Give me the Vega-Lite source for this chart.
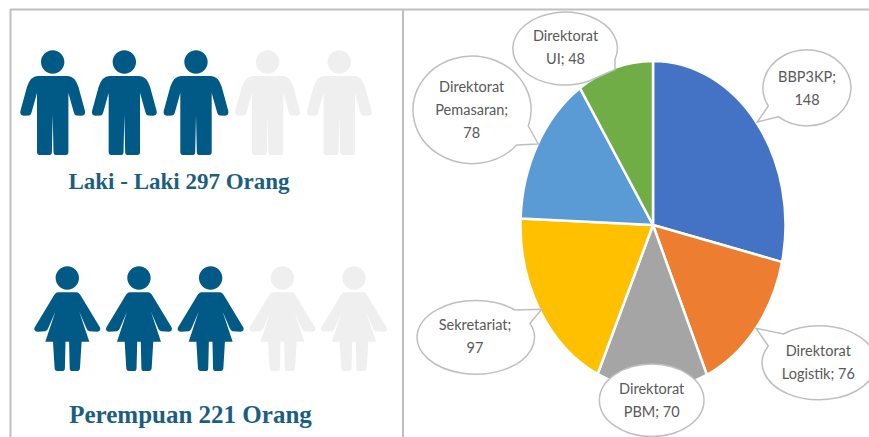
{
"$schema":"https://vega.github.io/schema/vega-lite/v6.json",
"width":869,"height":437,"padding":0,
"autosize":{"type":"fit","contains":"padding"},
"background":"white",
"datasets":{
"unit":[{"urutan":1,"name":"BBP3KP","value":148,"label":"BBP3KP;\n148"},{"urutan":2,"name":"Direktorat Logistik","value":76,"label":"Direktorat\nLogistik; 76"},{"urutan":3,"name":"Direktorat PBM","value":70,"label":"Direktorat\nPBM; 70"},{"urutan":4,"name":"Sekretariat","value":97,"label":"Sekretariat;\n97"},{"urutan":5,"name":"Direktorat Pemasaran","value":78,"label":"Direktorat\nPemasaran;\n78"},{"urutan":6,"name":"Direktorat UI","value":48,"label":"Direktorat\nUI; 48"}],
"laki":[{"kolom":1,"status":"terisi"},{"kolom":2,"status":"terisi"},{"kolom":3,"status":"terisi"},{"kolom":4,"status":"kosong"},{"kolom":5,"status":"kosong"}],
"perempuan":[{"kolom":1,"status":"terisi"},{"kolom":2,"status":"terisi"},{"kolom":3,"status":"terisi"},{"kolom":4,"status":"kosong"},{"kolom":5,"status":"kosong"}],
"judul":[{"baris":1,"teks":"Laki - Laki 297 Orang"},{"baris":2,"teks":"Perempuan 221 Orang"}]
},
"data":{"name":"unit"},
"config":{"view":{"stroke":null}},
"resolve":{"scale":{"x":"independent","y":"independent","fill":"independent","shape":"independent"}},
"layer":[
{"data":{"values":[{"garis":"atas"}]},"mark":{"type":"rule","color":"#BFBFBF","strokeWidth":2},
"encoding":{"x":{"datum":10,"type":"quantitative","axis":null,"scale":{"domain":[0,869],"range":[0,869]}},"x2":{"datum":869},"y":{"datum":9.5,"type":"quantitative","axis":null,"scale":{"domain":[0,437],"range":[0,437]}}}},
{"data":{"values":[{"garis":"kiri"}]},"mark":{"type":"rule","color":"#BFBFBF","strokeWidth":2},
"encoding":{"x":{"datum":10.5,"type":"quantitative","axis":null,"scale":{"domain":[0,869],"range":[0,869]}},"y":{"datum":9,"type":"quantitative","axis":null,"scale":{"domain":[0,437],"range":[0,437]}},"y2":{"datum":437}}},
{"data":{"values":[{"garis":"tengah"}]},"mark":{"type":"rule","color":"#BFBFBF","strokeWidth":2},
"encoding":{"x":{"datum":403,"type":"quantitative","axis":null,"scale":{"domain":[0,869],"range":[0,869]}},"y":{"datum":9,"type":"quantitative","axis":null,"scale":{"domain":[0,437],"range":[0,437]}},"y2":{"datum":437}}},
{"data":{"name":"laki"},
"mark":{"type":"point","filled":true,"opacity":1,"size":4,"strokeWidth":0,
"shape":"M-15,14 L15,14 Q22,14 25.7,24.7 L32.3,49 Q33,53.5 29,53.7 L24,53.5 Q22,53.5 21,50 L15.7,31 L15.7,90 Q15.7,93 13,93 L3,93 Q1,93 0.8,90 L0,53 L-0.8,90 Q-1,93 -3,93 L-13,93 Q-15.7,93 -15.7,90 L-15.7,31 L-21,50 Q-22,53.5 -24,53.5 L-29,53.7 Q-33,53.5 -32.3,49 L-25.7,24.7 Q-22,14 -15,14 Z M11.7,0 A11.7,11.7 0 1 1 -11.7,0 A11.7,11.7 0 1 1 11.7,0 Z"},
"encoding":{"x":{"field":"kolom","type":"quantitative","axis":null,"scale":{"domain":[1,5],"range":[52.7,339.3],"zero":false,"nice":false}},
"y":{"datum":62,"type":"quantitative","axis":null,"scale":{"domain":[0,437],"range":[0,437]}},
"fill":{"field":"status","type":"nominal","legend":null,"scale":{"domain":["terisi","kosong"],"range":["#005A85","#EFEFEF"]}}}},
{"data":{"name":"perempuan"},
"mark":{"type":"point","filled":true,"opacity":1,"size":4,"strokeWidth":0,
"shape":"M-9,14.3 L9,14.3 Q12,14.3 14.3,19 L32.7,49.5 Q34,53 30,53.7 L22,53.3 Q20,53 19,50 L12,33.7 L22,63.7 L14.3,63.7 L12.7,90 Q12.5,93 10,93 L4.3,93 Q2.5,93 2.4,90 L1.8,63.7 L-1.8,63.7 L-2.4,90 Q-2.5,93 -4.3,93 L-10,93 Q-12.5,93 -12.7,90 L-14.3,63.7 L-22,63.7 L-12,33.7 L-19,50 Q-20,53 -22,53.3 L-30,53.7 Q-34,53 -32.7,49.5 L-14.3,19 Q-12,14.3 -9,14.3 Z M11.7,0 A11.7,11.7 0 1 1 -11.7,0 A11.7,11.7 0 1 1 11.7,0 Z"},
"encoding":{"x":{"field":"kolom","type":"quantitative","axis":null,"scale":{"domain":[1,5],"range":[67.3,354],"zero":false,"nice":false}},
"y":{"datum":278,"type":"quantitative","axis":null,"scale":{"domain":[0,437],"range":[0,437]}},
"fill":{"field":"status","type":"nominal","legend":null,"scale":{"domain":["terisi","kosong"],"range":["#005A85","#EFEFEF"]}}}},
{"data":{"name":"judul"},
"mark":{"type":"text","font":"Liberation Serif","fontWeight":"bold","color":"#1B5E80","baseline":"middle","align":"center"},
"encoding":{"text":{"field":"teks"},
"size":{"field":"baris","type":"quantitative","legend":null,"scale":{"domain":[1,2],"range":[23,25],"zero":false,"nice":false}},
"x":{"field":"baris","type":"quantitative","axis":null,"scale":{"domain":[1,2],"range":[179,190.5],"zero":false,"nice":false}},
"y":{"field":"baris","type":"quantitative","axis":null,"scale":{"domain":[1,2],"range":[182,415],"zero":false,"nice":false}}}},
{"mark":{"type":"point","filled":true,"opacity":1,"size":4,"stroke":"white","strokeWidth":2.5,"strokeJoin":"round"},
"encoding":{"x":{"datum":653,"type":"quantitative","axis":null,"scale":{"domain":[0,869],"range":[0,869]}},
"y":{"datum":225,"type":"quantitative","axis":null,"scale":{"domain":[0,437],"range":[0,437]}},
"fill":{"field":"name","type":"nominal","legend":null,"scale":{"domain":["BBP3KP","Direktorat Logistik","Direktorat PBM","Sekretariat","Direktorat Pemasaran","Direktorat UI"],"range":["#4472C4","#ED7D31","#A5A5A5","#FFC000","#5B9BD5","#70AD47"]}},
"shape":{"field":"name","type":"nominal","legend":null,"scale":{"domain":["BBP3KP","Direktorat Logistik","Direktorat PBM","Sekretariat","Direktorat Pemasaran","Direktorat UI"],"range":["M0,0 L0,-164 A132.5,164 0 0 1 129.1,37.1 Z","M0,0 L129.1,37.1 A132.5,164 0 0 1 53.9,149.8 Z","M0,0 L53.9,149.8 A132.5,164 0 0 1 -55.4,149 Z","M0,0 L-55.4,149 A132.5,164 0 0 1 -132.4,-6.5 Z","M0,0 L-132.4,-6.5 A132.5,164 0 0 1 -73,-136.9 Z","M0,0 L-73,-136.9 A132.5,164 0 0 1 0,-164 Z"]}}}},
{"mark":{"type":"point","filled":true,"opacity":1,"size":4,"fill":"white","stroke":"#BFBFBF","strokeWidth":1.5},
"encoding":{"x":{"field":"urutan","type":"quantitative","axis":null,"scale":{"domain":[1,2,3,4,5,6],"range":[807,818.6,651.7,475.3,472.5,565],"zero":false,"nice":false}},
"y":{"field":"urutan","type":"quantitative","axis":null,"scale":{"domain":[1,2,3,4,5,6],"range":[88.7,363,400.3,335.8,110.5,48.5],"zero":false,"nice":false}},
"shape":{"field":"name","type":"nominal","legend":null,"scale":{"domain":["BBP3KP","Direktorat Logistik","Direktorat PBM","Sekretariat","Direktorat Pemasaran","Direktorat UI"],"range":["M-49.7,33.3 L-38.7,17.3 A44,38 0 1 1 -28.7,28 Z","M-62.6,-34.7 L-35.3,-29 A57,37 0 1 1 -50.3,-17 Z","M52.3,0 A52.3,36.3 0 1 1 -52.3,0 A52.3,36.3 0 1 1 52.3,0 Z","M66.4,-26.5 L54.7,-12.5 A58.7,36.8 0 1 1 39.7,-25.8 Z","M65.8,33.5 L44.2,34.5 A59,53.8 0 1 1 55.8,15.5 Z","M50,21 L24,32.5 A52.3,36.5 0 1 1 50,11 Z"]}}}},
{"mark":{"type":"text","font":"Lato","fontSize":14.5,"color":"#595959","align":"center","baseline":"middle","lineBreak":"\n","lineHeight":23},
"encoding":{"text":{"field":"label"},
"x":{"field":"urutan","type":"quantitative","axis":null,"scale":{"domain":[1,2,3,4,5,6],"range":[807,818.3,651.7,475,471.7,565.5],"zero":false,"nice":false}},
"y":{"field":"urutan","type":"quantitative","axis":null,"scale":{"domain":[1,2,3,4,5,6],"range":[78,352.3,390,325.7,88,36.7],"zero":false,"nice":false}}}}
]
}
